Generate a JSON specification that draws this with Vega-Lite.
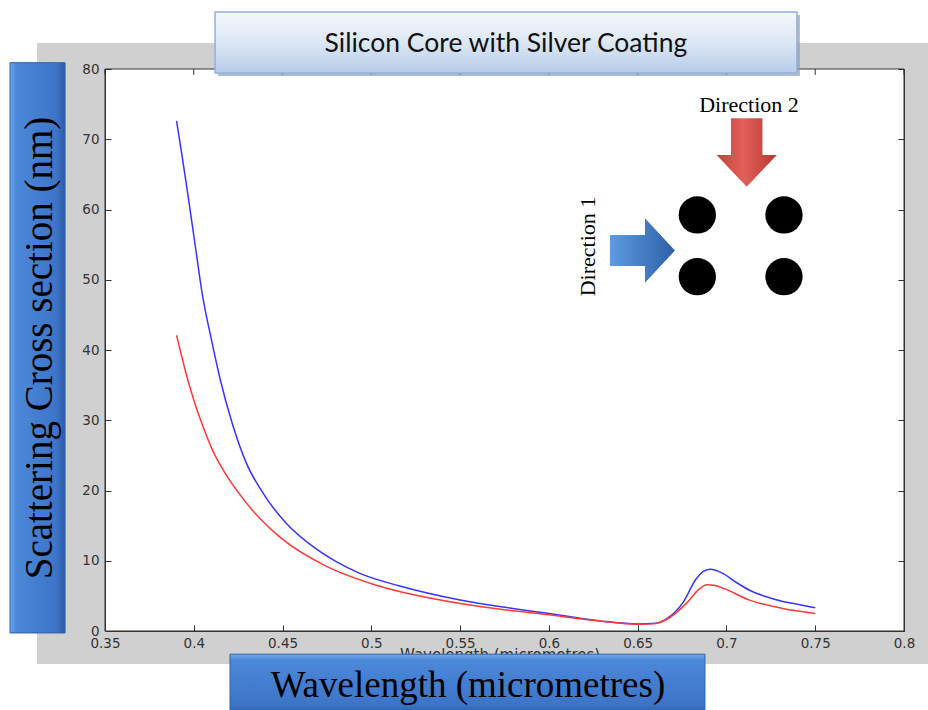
{
  "$schema": "https://vega.github.io/schema/vega-lite/v6.json",
  "width": 799,
  "height": 562,
  "autosize": {"type": "none"},
  "padding": {"left": 105, "top": 69, "right": 24, "bottom": 79},
  "background": "white",
  "config": {
    "view": {"stroke": null},
    "axis": {
      "grid": false, "title": null,
      "domainColor": "#333", "tickColor": "#333", "domainWidth": 1, "tickWidth": 1,
      "labelFont": "DejaVu Sans", "labelFontSize": 13.5, "labelColor": "#333",
      "tickSize": -6, "labelOverlap": false, "labelBound": false, "labelFlush": false
    }
  },
  "datasets": {
    "curves": [
      {"wl": 0.3903, "cs": 72.6, "series": "Direction 1"},
      {"wl": 0.3932, "cs": 68.0, "series": "Direction 1"},
      {"wl": 0.3971, "cs": 61.4, "series": "Direction 1"},
      {"wl": 0.4009, "cs": 54.7, "series": "Direction 1"},
      {"wl": 0.4047, "cs": 48.1, "series": "Direction 1"},
      {"wl": 0.4100, "cs": 41.4, "series": "Direction 1"},
      {"wl": 0.4150, "cs": 35.7, "series": "Direction 1"},
      {"wl": 0.4216, "cs": 29.6, "series": "Direction 1"},
      {"wl": 0.4296, "cs": 23.9, "series": "Direction 1"},
      {"wl": 0.4391, "cs": 19.6, "series": "Direction 1"},
      {"wl": 0.4522, "cs": 15.3, "series": "Direction 1"},
      {"wl": 0.4672, "cs": 12.0, "series": "Direction 1"},
      {"wl": 0.480, "cs": 9.9, "series": "Direction 1"},
      {"wl": 0.4935, "cs": 8.2, "series": "Direction 1"},
      {"wl": 0.516, "cs": 6.4, "series": "Direction 1"},
      {"wl": 0.550, "cs": 4.4, "series": "Direction 1"},
      {"wl": 0.600, "cs": 2.5, "series": "Direction 1"},
      {"wl": 0.630, "cs": 1.4, "series": "Direction 1"},
      {"wl": 0.650, "cs": 1.0, "series": "Direction 1"},
      {"wl": 0.658, "cs": 1.05, "series": "Direction 1"},
      {"wl": 0.666, "cs": 1.7, "series": "Direction 1"},
      {"wl": 0.6754, "cs": 4.0, "series": "Direction 1"},
      {"wl": 0.6829, "cs": 7.4, "series": "Direction 1"},
      {"wl": 0.6870, "cs": 8.5, "series": "Direction 1"},
      {"wl": 0.6910, "cs": 8.8, "series": "Direction 1"},
      {"wl": 0.6980, "cs": 8.2, "series": "Direction 1"},
      {"wl": 0.7050, "cs": 7.0, "series": "Direction 1"},
      {"wl": 0.7130, "cs": 5.8, "series": "Direction 1"},
      {"wl": 0.7220, "cs": 4.9, "series": "Direction 1"},
      {"wl": 0.7317, "cs": 4.2, "series": "Direction 1"},
      {"wl": 0.7400, "cs": 3.8, "series": "Direction 1"},
      {"wl": 0.7500, "cs": 3.3, "series": "Direction 1"},
      {"wl": 0.3903, "cs": 42.1, "series": "Direction 2"},
      {"wl": 0.3967, "cs": 35.7, "series": "Direction 2"},
      {"wl": 0.4005, "cs": 32.5, "series": "Direction 2"},
      {"wl": 0.4052, "cs": 29.1, "series": "Direction 2"},
      {"wl": 0.4108, "cs": 25.6, "series": "Direction 2"},
      {"wl": 0.4166, "cs": 22.9, "series": "Direction 2"},
      {"wl": 0.4297, "cs": 18.2, "series": "Direction 2"},
      {"wl": 0.4503, "cs": 13.0, "series": "Direction 2"},
      {"wl": 0.4748, "cs": 9.2, "series": "Direction 2"},
      {"wl": 0.5029, "cs": 6.5, "series": "Direction 2"},
      {"wl": 0.550, "cs": 3.9, "series": "Direction 2"},
      {"wl": 0.600, "cs": 2.3, "series": "Direction 2"},
      {"wl": 0.630, "cs": 1.4, "series": "Direction 2"},
      {"wl": 0.651, "cs": 0.95, "series": "Direction 2"},
      {"wl": 0.660, "cs": 1.05, "series": "Direction 2"},
      {"wl": 0.666, "cs": 1.6, "series": "Direction 2"},
      {"wl": 0.6773, "cs": 3.9, "series": "Direction 2"},
      {"wl": 0.6848, "cs": 6.0, "series": "Direction 2"},
      {"wl": 0.6890, "cs": 6.6, "series": "Direction 2"},
      {"wl": 0.6930, "cs": 6.5, "series": "Direction 2"},
      {"wl": 0.6980, "cs": 6.1, "series": "Direction 2"},
      {"wl": 0.7130, "cs": 4.4, "series": "Direction 2"},
      {"wl": 0.7317, "cs": 3.2, "series": "Direction 2"},
      {"wl": 0.7500, "cs": 2.5, "series": "Direction 2"}
    ],
    "ticks": [
      {"t": 0.35}, {"t": 0.4}, {"t": 0.45}, {"t": 0.5}, {"t": 0.55},
      {"t": 0.6}, {"t": 0.65}, {"t": 0.7}, {"t": 0.75}, {"t": 0.8}
    ],
    "particles": [
      {"px": 0.6836, "py": 59.22},
      {"px": 0.7324, "py": 59.22},
      {"px": 0.6836, "py": 50.43},
      {"px": 0.7324, "py": 50.43}
    ]
  },
  "resolve": {"axis": {"x": "independent", "y": "independent"}},
  "layer": [
    {
      "data": {"values": [{}]},
      "mark": {"type": "rect", "fill": "#d0d0d0", "clip": false},
      "encoding": {
        "x": {"datum": 0.3117, "type": "quantitative", "scale": {"domain": [0.35, 0.8], "nice": false, "zero": false}, "axis": null},
        "x2": {"datum": 0.8160},
        "y": {"datum": 83.7, "type": "quantitative", "scale": {"domain": [0, 80], "nice": false, "zero": false}, "axis": null},
        "y2": {"datum": -4.7}
      }
    },
    {
      "data": {"values": [{}]},
      "mark": {"type": "rect", "fill": "white", "stroke": "#333", "strokeWidth": 1, "clip": false},
      "encoding": {
        "x": {"datum": 0.35, "type": "quantitative", "scale": {"domain": [0.35, 0.8], "nice": false, "zero": false}, "axis": null},
        "x2": {"datum": 0.8},
        "y": {"datum": 0, "type": "quantitative", "scale": {"domain": [0, 80], "nice": false, "zero": false}, "axis": null},
        "y2": {"datum": 80}
      }
    },
    {
      "data": {"name": "ticks"},
      "mark": {"type": "rule", "color": "#333", "strokeWidth": 1, "clip": false},
      "encoding": {
        "x": {"field": "t", "type": "quantitative", "scale": {"domain": [0.35, 0.8], "nice": false, "zero": false}, "axis": null},
        "y": {"datum": 80, "type": "quantitative", "scale": {"domain": [0, 80], "nice": false, "zero": false},
              "axis": {"orient": "right", "zindex": 1, "values": [0, 10, 20, 30, 40, 50, 60, 70, 80], "labels": false}},
        "y2": {"datum": 79.15}
      }
    },
    {
      "data": {"name": "curves"},
      "mark": {"type": "line", "strokeWidth": 1.5, "interpolate": "monotone", "clip": false},
      "encoding": {
        "x": {"field": "wl", "type": "quantitative", "scale": {"domain": [0.35, 0.8], "nice": false, "zero": false},
              "axis": {"orient": "bottom", "zindex": 1, "values": [0.35, 0.4, 0.45, 0.5, 0.55, 0.6, 0.65, 0.7, 0.75, 0.8], "format": "~g", "labelPadding": 11}},
        "y": {"field": "cs", "type": "quantitative", "scale": {"domain": [0, 80], "nice": false, "zero": false},
              "axis": {"orient": "left", "zindex": 1, "values": [0, 10, 20, 30, 40, 50, 60, 70, 80], "labelPadding": 12}},
        "color": {"field": "series", "type": "nominal", "scale": {"domain": ["Direction 1", "Direction 2"], "range": ["#3535ff", "#ff3838"]}, "legend": null}
      }
    },
    {
      "data": {"values": [{}]},
      "mark": {"type": "text", "text": "Wavelength (micrometres)", "font": "DejaVu Sans", "fontSize": 15, "color": "#333", "align": "center", "baseline": "top", "clip": false},
      "encoding": {
        "x": {"datum": 0.5725, "type": "quantitative", "scale": {"domain": [0.35, 0.8], "nice": false, "zero": false}, "axis": null},
        "y": {"datum": -2.42, "type": "quantitative", "scale": {"domain": [0, 80], "nice": false, "zero": false}, "axis": null}
      }
    },
    {
      "data": {"values": [{}]},
      "mark": {"type": "rect", "fill": "#8d9db5", "opacity": 0.7, "clip": false},
      "encoding": {
        "x": {"datum": 0.4137, "type": "quantitative", "scale": {"domain": [0.35, 0.8], "nice": false, "zero": false}, "axis": null},
        "x2": {"datum": 0.7414},
        "y": {"datum": 87.7, "type": "quantitative", "scale": {"domain": [0, 80], "nice": false, "zero": false}, "axis": null},
        "y2": {"datum": 79.0}
      }
    },
    {
      "data": {"values": [{}]},
      "mark": {"type": "rect", "stroke": "#8fb2de", "strokeWidth": 1.5, "clip": false,
               "fill": {"gradient": "linear", "x1": 0, "y1": 0, "x2": 0, "y2": 1,
                        "stops": [{"offset": 0, "color": "#f5f8fd"}, {"offset": 0.5, "color": "#dce7f5"}, {"offset": 1, "color": "#b7cbe8"}]}},
      "encoding": {
        "x": {"datum": 0.412, "type": "quantitative", "scale": {"domain": [0.35, 0.8], "nice": false, "zero": false}, "axis": null},
        "x2": {"datum": 0.7397},
        "y": {"datum": 88.11, "type": "quantitative", "scale": {"domain": [0, 80], "nice": false, "zero": false}, "axis": null},
        "y2": {"datum": 79.43}
      }
    },
    {
      "data": {"values": [{}]},
      "mark": {"type": "text", "text": "Silicon Core with Silver Coating", "font": "Lato", "fontSize": 26.5, "color": "#111", "align": "center", "baseline": "alphabetic", "clip": false},
      "encoding": {
        "x": {"datum": 0.5758, "type": "quantitative", "scale": {"domain": [0.35, 0.8], "nice": false, "zero": false}, "axis": null},
        "y": {"datum": 82.45, "type": "quantitative", "scale": {"domain": [0, 80], "nice": false, "zero": false}, "axis": null}
      }
    },
    {
      "data": {"values": [{}]},
      "mark": {"type": "rect", "stroke": "#2f62ad", "strokeWidth": 1, "clip": false,
               "fill": {"gradient": "linear", "x1": 0, "y1": 0, "x2": 1, "y2": 0,
                        "stops": [{"offset": 0, "color": "#6ea6ec"}, {"offset": 0.12, "color": "#4c88d9"}, {"offset": 0.85, "color": "#3d74c7"}, {"offset": 1, "color": "#2b5ba5"}]}},
      "encoding": {
        "x": {"datum": 0.2965, "type": "quantitative", "scale": {"domain": [0.35, 0.8], "nice": false, "zero": false}, "axis": null},
        "x2": {"datum": 0.3275},
        "y": {"datum": 80.9, "type": "quantitative", "scale": {"domain": [0, 80], "nice": false, "zero": false}, "axis": null},
        "y2": {"datum": -0.28}
      }
    },
    {
      "data": {"values": [{}]},
      "mark": {"type": "text", "text": "Scattering Cross section (nm)", "font": "Liberation Serif", "fontSize": 39, "color": "#000", "angle": 270, "align": "center", "baseline": "alphabetic", "clip": false},
      "encoding": {
        "x": {"datum": 0.3201, "type": "quantitative", "scale": {"domain": [0.35, 0.8], "nice": false, "zero": false}, "axis": null},
        "y": {"datum": 40.29, "type": "quantitative", "scale": {"domain": [0, 80], "nice": false, "zero": false}, "axis": null}
      }
    },
    {
      "data": {"values": [{}]},
      "mark": {"type": "rect", "stroke": "#2f62ad", "strokeWidth": 1, "clip": false,
               "fill": {"gradient": "linear", "x1": 0, "y1": 0, "x2": 0, "y2": 1,
                        "stops": [{"offset": 0, "color": "#72aaee"}, {"offset": 0.1, "color": "#4c88d9"}, {"offset": 0.85, "color": "#3d74c7"}, {"offset": 1, "color": "#2d5ea8"}]}},
      "encoding": {
        "x": {"datum": 0.4204, "type": "quantitative", "scale": {"domain": [0.35, 0.8], "nice": false, "zero": false}, "axis": null},
        "x2": {"datum": 0.6879},
        "y": {"datum": -3.3, "type": "quantitative", "scale": {"domain": [0, 80], "nice": false, "zero": false}, "axis": null},
        "y2": {"datum": -11.8}
      }
    },
    {
      "data": {"values": [{}]},
      "mark": {"type": "text", "text": "Wavelength (micrometres)", "font": "Liberation Serif", "fontSize": 37, "color": "#000", "align": "center", "baseline": "alphabetic", "clip": false},
      "encoding": {
        "x": {"datum": 0.5544, "type": "quantitative", "scale": {"domain": [0.35, 0.8], "nice": false, "zero": false}, "axis": null},
        "y": {"datum": -9.4, "type": "quantitative", "scale": {"domain": [0, 80], "nice": false, "zero": false}, "axis": null}
      }
    },
    {
      "data": {"name": "particles"},
      "mark": {"type": "point", "shape": "circle", "filled": true, "color": "#000", "opacity": 1, "size": 1390, "clip": false},
      "encoding": {
        "x": {"field": "px", "type": "quantitative", "scale": {"domain": [0.35, 0.8], "nice": false, "zero": false}, "axis": null},
        "y": {"field": "py", "type": "quantitative", "scale": {"domain": [0, 80], "nice": false, "zero": false}, "axis": null}
      }
    },
    {
      "data": {"values": [{}]},
      "mark": {"type": "point", "filled": true, "opacity": 1, "size": 4679, "strokeWidth": 0, "clip": false,
               "shape": "M-0.46,-1 L0.46,-1 L0.46,0.07 L0.88,0.07 L0,1 L-0.88,0.07 L-0.46,0.07 Z",
               "fill": {"gradient": "linear", "x1": 0, "y1": 0, "x2": 1, "y2": 0,
                        "stops": [{"offset": 0, "color": "#c9423b"}, {"offset": 0.45, "color": "#e2605a"}, {"offset": 1, "color": "#b8362f"}]}},
      "encoding": {
        "x": {"datum": 0.7114, "type": "quantitative", "scale": {"domain": [0.35, 0.8], "nice": false, "zero": false}, "axis": null},
        "y": {"datum": 68.11, "type": "quantitative", "scale": {"domain": [0, 80], "nice": false, "zero": false}, "axis": null}
      }
    },
    {
      "data": {"values": [{}]},
      "mark": {"type": "point", "filled": true, "opacity": 1, "size": 4225, "strokeWidth": 0, "clip": false,
               "shape": "M-1,-0.477 L0.077,-0.477 L0.077,-0.99 L1,0 L0.077,0.99 L0.077,0.477 L-1,0.477 Z",
               "fill": {"gradient": "linear", "x1": 0, "y1": 0, "x2": 1, "y2": 0,
                        "stops": [{"offset": 0, "color": "#5d9be0"}, {"offset": 1, "color": "#2e60a8"}]}},
      "encoding": {
        "x": {"datum": 0.6527, "type": "quantitative", "scale": {"domain": [0.35, 0.8], "nice": false, "zero": false}, "axis": null},
        "y": {"datum": 54.16, "type": "quantitative", "scale": {"domain": [0, 80], "nice": false, "zero": false}, "axis": null}
      }
    },
    {
      "data": {"values": [{}]},
      "mark": {"type": "text", "text": "Direction 2", "font": "Liberation Serif", "fontSize": 22, "color": "#000", "align": "center", "baseline": "alphabetic", "clip": false},
      "encoding": {
        "x": {"datum": 0.7127, "type": "quantitative", "scale": {"domain": [0.35, 0.8], "nice": false, "zero": false}, "axis": null},
        "y": {"datum": 73.95, "type": "quantitative", "scale": {"domain": [0, 80], "nice": false, "zero": false}, "axis": null}
      }
    },
    {
      "data": {"values": [{}]},
      "mark": {"type": "text", "text": "Direction 1", "font": "Liberation Serif", "fontSize": 22, "color": "#000", "angle": 270, "align": "center", "baseline": "alphabetic", "clip": false},
      "encoding": {
        "x": {"datum": 0.626, "type": "quantitative", "scale": {"domain": [0.35, 0.8], "nice": false, "zero": false}, "axis": null},
        "y": {"datum": 54.73, "type": "quantitative", "scale": {"domain": [0, 80], "nice": false, "zero": false}, "axis": null}
      }
    }
  ]
}
